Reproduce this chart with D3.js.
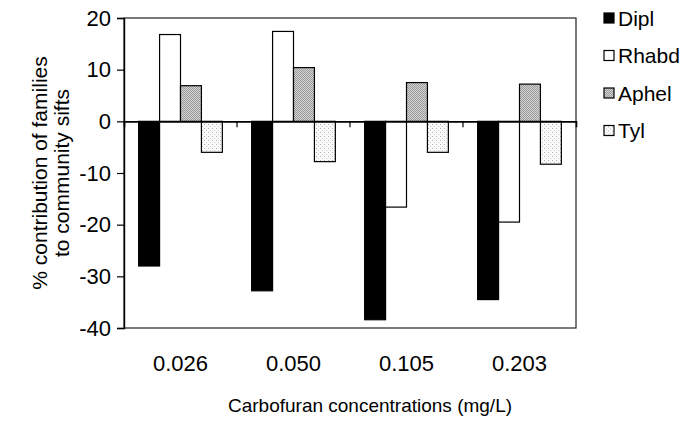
<!DOCTYPE html>
<html><head><meta charset="utf-8">
<script src="https://cdn.jsdelivr.net/npm/d3@7"></script>
<style>
html,body{margin:0;padding:0;background:#fff;}
svg{display:block;font-family:"Liberation Sans",Arial,sans-serif;}
</style></head>
<body><svg id="chart" width="682" height="421"></svg>
<script>
const categories = ["0.026", "0.050", "0.105", "0.203"];
const seriesNames = ["Dipl", "Rhabd", "Aphel", "Tyl"];
const dipl  = [-28.0, -32.8, -38.4, -34.5];
const rhabd = [16.8, 17.4, -16.6, -19.5];
const aphel = [6.9, 10.4, 7.5, 7.2];
const tyl   = [-6.0, -7.8, -6.0, -8.3];
const yTicks = [20, 10, 0, -10, -20, -30, -40];
const xTitle = "Carbofuran concentrations (mg/L)";
const yTitle = ["% contribution of families", "to community sifts"];

const seriesValues = [dipl, rhabd, aphel, tyl];
const fills = ["#000", "#fff", "url(#patAphel)", "url(#patTyl)"];

const svg = d3.select("#chart");
const defs = svg.append("defs");
const pa = defs.append("pattern").attr("id","patAphel").attr("patternUnits","userSpaceOnUse").attr("width",2).attr("height",2);
pa.append("rect").attr("width",2).attr("height",2).attr("fill","#d4d4d4");
pa.append("rect").attr("width",1).attr("height",1).attr("fill","#9a9a9a");
pa.append("rect").attr("x",1).attr("y",1).attr("width",1).attr("height",1).attr("fill","#9a9a9a");
const pt = defs.append("pattern").attr("id","patTyl").attr("patternUnits","userSpaceOnUse").attr("width",4).attr("height",4);
pt.append("rect").attr("width",4).attr("height",4).attr("fill","#fafafa");
pt.append("rect").attr("width",1).attr("height",1).attr("fill","#b0b0b0");
pt.append("rect").attr("x",2).attr("y",2).attr("width",1).attr("height",1).attr("fill","#c8c8c8");

const pLeft = 124, pRight = 576, pTop = 18, pBottom = 328;
const y = d3.scaleLinear().domain([-40, 20]).range([pBottom, pTop]);
const x = d3.scaleBand().domain(categories).range([pLeft, pRight]).paddingInner(0).paddingOuter(0);
const inner = d3.scaleBand().domain(seriesNames).range([0, x.bandwidth()]).paddingInner(0).paddingOuter(0.7);

// plot frame
svg.append("rect").attr("x", pLeft).attr("y", pTop).attr("width", pRight-pLeft).attr("height", pBottom-pTop)
  .attr("fill","none").attr("stroke","#222").attr("stroke-width",1.2);

// bars
seriesNames.forEach((s, si) => {
  svg.append("g").selectAll("rect").data(seriesValues[si]).join("rect")
    .attr("x", (d,i) => x(categories[i]) + inner(s))
    .attr("y", d => y(Math.max(0,d)))
    .attr("width", inner.bandwidth())
    .attr("height", d => Math.abs(y(d) - y(0)))
    .attr("fill", fills[si])
    .attr("stroke", "#000").attr("stroke-width", 1.2);
});

// y axis
const yAxis = d3.axisLeft(y).tickValues(yTicks).tickSize(7).tickPadding(6).tickFormat(d => String(d));
const gy = svg.append("g").attr("transform", `translate(${pLeft},0)`).call(yAxis);
gy.select(".domain").attr("stroke","#000").attr("stroke-width",1.4);
gy.selectAll(".tick line").attr("stroke","#000").attr("stroke-width",1.2);
gy.selectAll(".tick text").attr("font-size", 22).attr("fill","#000").attr("font-family","Liberation Sans, Arial, sans-serif");

// x axis at zero
const xAxis = d3.axisBottom(x).tickValues(categories.slice(1)).tickSize(6).tickFormat("");
const gx = svg.append("g").attr("transform", `translate(0,${y(0)})`).call(xAxis);
gx.select(".domain").attr("stroke","#000").attr("stroke-width",1.6);
gx.selectAll(".tick").attr("transform", d => `translate(${x(d)},0)`);
gx.selectAll(".tick line").attr("stroke","#000").attr("stroke-width",1.2);

// category labels
svg.append("g").selectAll("text").data(categories).join("text")
  .attr("x", d => x(d) + x.bandwidth()/2)
  .attr("y", 371)
  .attr("text-anchor","middle").attr("font-size", 22).attr("fill","#000")
  .text(d => d);

// x title
svg.append("text").attr("x", (pLeft+pRight)/2 + 20).attr("y", 412)
  .attr("text-anchor","middle").attr("font-size", 19).attr("fill","#000").text(xTitle);

// y title
const yt = svg.append("text").attr("transform", `translate(47,${(pTop+pBottom)/2}) rotate(-90)`)
  .attr("text-anchor","middle").attr("font-size", 21).attr("fill","#000");
yTitle.forEach((t,i) => yt.append("tspan").attr("x",0).attr("dy", i===0 ? 0 : 22).text(t));

// legend
const lg = svg.append("g").selectAll("g").data(seriesNames).join("g")
  .attr("transform", (d,i) => `translate(604,${18 + i*37.5})`);
lg.append("rect").attr("x",0).attr("y",-5).attr("width",10).attr("height",10)
  .attr("fill",(d,i)=>fills[i]).attr("stroke","#000").attr("stroke-width",1.2);
lg.append("text").attr("x",14).attr("y",7.5).attr("font-size",21).attr("fill","#000").text(d=>d);
</script>
</body></html>
